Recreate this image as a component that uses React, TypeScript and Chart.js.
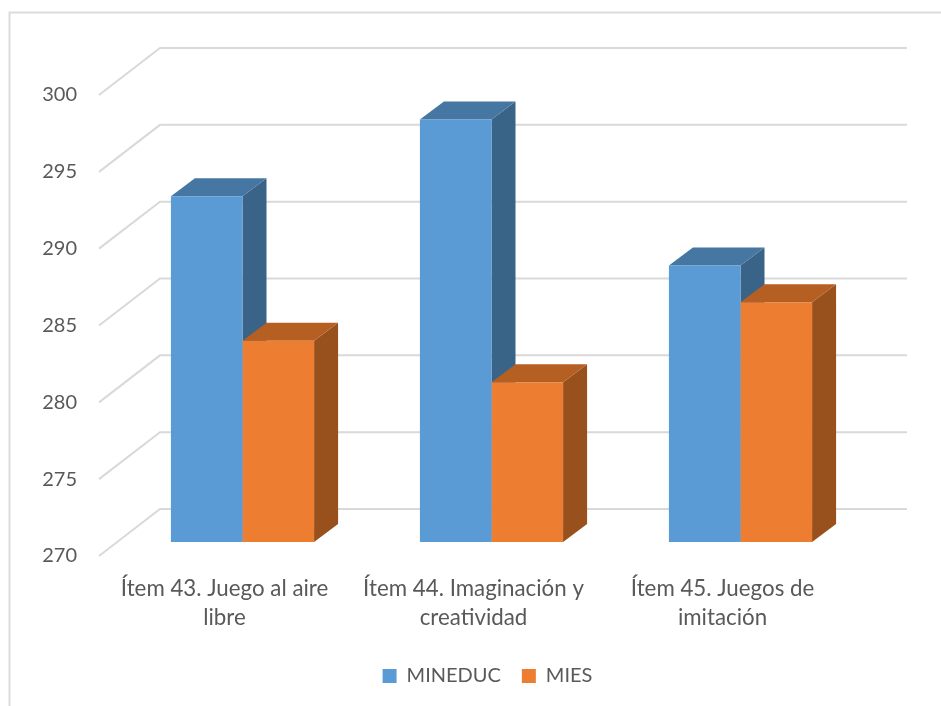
import React, { useEffect, useRef } from "react";
import { Chart, registerables, Plugin } from "chart.js";

Chart.register(...registerables);

const categories = [
  ["Ítem 43. Juego al aire", "libre"],
  ["Ítem 44. Imaginación y", "creatividad"],
  ["Ítem 45. Juegos de", "imitación"],
];
const mineducValues = [292.5, 297.5, 288];
const miesValues = [283.1, 280.4, 285.6];
const AXIS_MIN = 270;
const AXIS_MAX = 300;

const FONT = "Lato, sans-serif";
const TEXT = "#595959";
const GRID = "#d9d9d9";

// Perspective offsets, relative to the plane that holds the bar fronts.
const BACK_WALL = { dx: 42, dy: -33 };
const FRONT_EDGE = { dx: -19, dy: 14 };
const BAR_DEPTH = { dx: 24, dy: -18 };

const faceColors = [
  { top: "#4676A2", side: "#396387" },
  { top: "#B65F22", side: "#98501D" },
];

function polygon(ctx: CanvasRenderingContext2D, pts: number[][], fill: string) {
  ctx.beginPath();
  pts.forEach(([x, y], i) => (i ? ctx.lineTo(x, y) : ctx.moveTo(x, y)));
  ctx.closePath();
  ctx.fillStyle = fill;
  ctx.fill();
}

// Outer frame of the chart object: only its top and left edges are visible.
const framePlugin: Plugin = {
  id: "frame",
  beforeDraw(chart) {
    const { ctx, width, height } = chart;
    ctx.save();
    ctx.strokeStyle = "#dcdcdc";
    ctx.lineWidth = 2;
    ctx.beginPath();
    ctx.moveTo(9.5, height);
    ctx.lineTo(9.5, 12.5);
    ctx.lineTo(width, 12.5);
    ctx.stroke();
    ctx.restore();
  },
};

// Moves the legend off the centre of the plot area.
const legendShiftPlugin: Plugin = {
  id: "legendShift",
  afterLayout(chart) {
    const legend = chart.legend;
    if (legend) {
      legend.left -= 4;
      legend.right -= 4;
    }
  },
};

// Back wall, floor edge lines and the top and side faces of each bar.
const depthPlugin: Plugin = {
  id: "depth",
  beforeDatasetsDraw(chart) {
    const { ctx } = chart;
    const yScale = chart.scales.y;
    const xScale = chart.scales.x;
    ctx.save();
    ctx.strokeStyle = GRID;
    ctx.lineWidth = 2;
    yScale.ticks.forEach((tick) => {
      const y = yScale.getPixelForValue(tick.value);
      ctx.beginPath();
      ctx.moveTo(xScale.left + FRONT_EDGE.dx, y + FRONT_EDGE.dy);
      ctx.lineTo(xScale.left + BACK_WALL.dx, y + BACK_WALL.dy);
      ctx.lineTo(xScale.right + BACK_WALL.dx, y + BACK_WALL.dy);
      ctx.stroke();
    });
    chart.data.datasets.forEach((_, i) => {
      const colors = faceColors[i];
      chart.getDatasetMeta(i).data.forEach((el: any) => {
        const { x, y, width, base } = el.getProps(["x", "y", "width", "base"], true);
        const l = x - width / 2;
        const r = x + width / 2;
        const { dx, dy } = BAR_DEPTH;
        polygon(ctx, [[r, y], [r + dx, y + dy], [r + dx, base + dy], [r, base]], colors.side);
        polygon(ctx, [[l, y], [l + dx, y + dy], [r + dx, y + dy], [r, y]], colors.top);
      });
    });
    ctx.restore();
  },
};

export default function App() {
  const ref = useRef<HTMLCanvasElement>(null);
  useEffect(() => {
    if (!ref.current) return;
    const chart = new Chart(ref.current, {
      type: "bar",
      data: {
        labels: categories,
        datasets: [
          { label: "MINEDUC", data: mineducValues, backgroundColor: "#5B9BD5", base: AXIS_MIN },
          { label: "MIES", data: miesValues, backgroundColor: "#ED7D31", base: AXIS_MIN },
        ],
      },
      options: {
        responsive: false,
        animation: false,
        layout: { padding: { left: 0, right: 76, top: 81, bottom: 10 } },
        datasets: { bar: { categoryPercentage: 0.575, barPercentage: 1 } },
        scales: {
          x: {
            grid: { display: false, drawTicks: false },
            border: { display: false },
            afterFit(scale: any) {
              scale.height = 103;
            },
            ticks: {
              color: TEXT,
              font: { family: FONT, size: 22.3, lineHeight: 29 / 22.3 },
              padding: 32,
              labelOffset: -18,
              maxRotation: 0,
              minRotation: 0,
              autoSkip: false,
            },
          },
          y: {
            min: AXIS_MIN,
            max: AXIS_MAX,
            grid: { display: false, drawTicks: false },
            border: { display: false },
            afterFit(scale: any) {
              scale.width = 118;
            },
            ticks: {
              stepSize: 5,
              color: TEXT,
              font: { family: FONT, size: 20 },
              padding: 41,
              labelOffset: 14,
            },
          },
        },
        plugins: {
          tooltip: { enabled: false },
          legend: {
            position: "bottom",
            fullSize: false,
            labels: {
              boxWidth: 14,
              boxHeight: 14,
              padding: 21,
              color: TEXT,
              font: { family: FONT, size: 20 },
            },
          },
        },
      },
      plugins: [framePlugin, legendShiftPlugin, depthPlugin],
    });
    return () => chart.destroy();
  }, []);
  return (
    <div style={{ position: "absolute", left: 0, top: 0 }}>
      <canvas ref={ref} width={941} height={706} style={{ display: "block" }} />
    </div>
  );
}
